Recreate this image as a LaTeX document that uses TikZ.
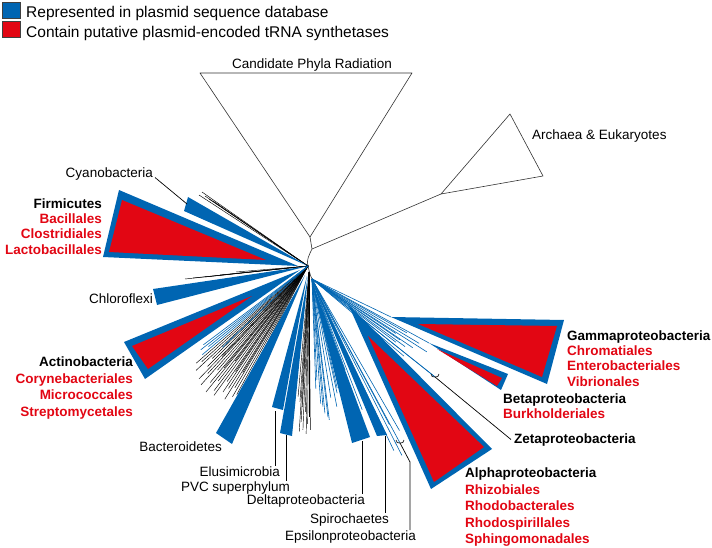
\documentclass[tikz,border=0pt]{standalone}
\usepackage{fontspec}
\setmainfont{Liberation Sans}
\usetikzlibrary{calc}
\definecolor{tblue}{RGB}{0,101,178}
\definecolor{tred}{RGB}{226,6,19}
\begin{document}
\begin{tikzpicture}[x=1pt,y=-1pt,
 lab/.style={inner sep=0pt, font=\fontsize{13.5}{16}\selectfont},
 blab/.style={inner sep=0pt, font=\fontsize{13.5}{16}\selectfont\bfseries},
 rlab/.style={blab, text=tred},
 legtxt/.style={inner sep=0pt, font=\fontsize{15.5}{18}\selectfont},
 legsq/.style={draw=black!75, line width=0.6pt, minimum width=18pt, minimum height=16pt, inner sep=0pt},
 leader/.style={draw=black, line width=0.7pt},
 clade/.style={draw=black!80, line width=0.6pt, line join=round},
 bline/.style={draw=black, line width=0.45pt},
 uline/.style={draw=tblue, line width=0.6pt},
 bw/.style={fill=tblue},
 rw/.style={fill=tred}]
\useasboundingbox (0,0) rectangle (712,548);

% ---------- legend
\node[legsq, fill=tblue, anchor=north west] (legb) at (2,2) {};
\node[legsq, fill=tred, anchor=north west] (legr) at (2,21) {};
\node[legtxt, anchor=base west] (legbt) at (26,17.5) {Represented in plasmid sequence database};
\node[legtxt, anchor=base west] (legrt) at (26,37.5) {Contain putative plasmid-encoded tRNA synthetases};

% ---------- backbone
\coordinate (cprtip) at (310,237);
\coordinate (nA) at (312,249);
\coordinate (nB) at (308,266);
\coordinate (nC) at (309,272);
\coordinate (nD) at (312,279);
\coordinate (arctip) at (441,194);
\draw[clade] (200,73) -- (412,73) -- (cprtip) -- cycle;
\draw[clade] (arctip) -- (510,114) -- (543,176) -- cycle;
\draw[clade] (cprtip) -- (nA) .. controls (309,255) and (306,261) .. (nB) .. controls (309,270) and (310,275) .. (nD);
\draw[clade] (nA) -- (arctip);
\node[lab, anchor=base] (cpr) at (312,69) {Candidate Phyla Radiation};
\node[lab, anchor=base west] (arc) at (532,140) {Archaea \& Eukaryotes};

% ---------- thin branches (left)
\foreach \p in {(202,192),(199,195),(205,196),(209,199),(213,201)}
  \draw[bline] (nB) -- \p;
\foreach \p in {(185,279),(193,278),(205,277),(220,275),(236,272)}
  \draw[bline] (nB) -- \p;
\foreach \a/\r in {139/148,138/143,137/153,136/133,135/142,134/157,133/147,132/160,131/138,130/152,129/162,128/146,127/156,126/160,125/141,124/152,123/146,122/157,121/142,120/151,119/147,118/138,127.5/120,133.5/125,124.5/128,129.5/132,121.5/125}
  \draw[bline] (nB) -- ++(\a:\r);
\foreach \a/\r in {143/131,142/136,141/128,140/138,136.5/118}
  \draw[uline] (nB) -- ++(\a:\r);
% ---------- thin branches (south)
\foreach \a/\r in {93/150,92.2/158,91.5/140,91/162,90.5/152,90/145,89.5/158,92.8/135,94/130,95/125,93.5/160}
  \draw[bline] (nC) -- ++(\a:\r);
\foreach \a/\r in {88/110,87.2/101,86/125,85.1/128,84.5/135,83.4/139,83/142,81/120,79/130,77.6/117,77/112,74.9/108,71/100,70/97,69/140,67/150,64.5/190,63/198,62/165,60/175}
  \draw[uline] (nD) -- ++(\a:\r);
% ---------- thin branches (east)
\foreach \a/\r in {34.3/122,32.4/136,29.6/109,34.7/107,31/125,36/115,37/105,33/100,38.5/157,40/120}
  \draw[uline] (nD) -- ++(\a:\r);
\coordinate (epsbr) at (400,443);
\coordinate (zetabr) at (435,377);
\draw[uline] (nD) -- (epsbr);
\draw[uline] (nD) -- (zetabr);
\draw[uline] (nD) -- (391,317);
\draw[uline] (nD) -- (429,343);
\draw[uline] (nD) -- (348,304);

% ---------- clades (blue wedges)
\fill[bw] (nB) -- (188,197) -- (184,211) -- cycle;      % Cyanobacteria
\fill[bw] (298,266) -- (119,190) -- (103,257) -- cycle; % Firmicutes
\fill[bw] (nB) -- (153,289) -- (157,305) -- cycle;      % Chloroflexi
\fill[bw] (300,270) -- (124,342) -- (145,379) -- cycle; % Actinobacteria
\fill[bw] (305,275) -- (216,433) -- (232,444) -- cycle; % Bacteroidetes
\fill[bw] (307,276) -- (272,407) -- (283,410) -- cycle; % Elusimicrobia
\fill[bw] (308,276) -- (280,433) -- (292,436) -- cycle; % PVC
\fill[bw] (311,279) -- (352,443) -- (370,437) -- cycle; % Delta
\fill[bw] (312,280) -- (377,436) -- (387,435) -- cycle; % Spirochaetes
\fill[bw] (348,304) -- (431,489) -- (492,449) -- cycle; % Alpha
\fill[bw] (429,343) -- (508,374) -- (501,390) -- cycle; % Beta
\fill[bw] (391,317) -- (564,320) -- (547,384) -- cycle; % Gamma
% red interiors
\fill[rw] (266,260) -- (122,200) -- (109,252) -- cycle;
\fill[rw] (252,296) -- (132,346) -- (148,369) -- cycle;
\fill[rw] (368,336) -- (434,482) -- (484,447) -- cycle;
\fill[rw] (437,349) -- (502,378) -- (497,386) -- cycle;
\fill[rw] (418,324) -- (557,326) -- (542,377) -- cycle;

% ---------- labels
\node[lab, anchor=base east] (cyan) at (153,178) {Cyanobacteria};
\node[blab, anchor=base east] (firm) at (102,208) {Firmicutes};
\node[rlab, anchor=base east] (firm1) at (102,223.5) {Bacillales};
\node[rlab, anchor=base east] (firm2) at (102,239) {Clostridiales};
\node[rlab, anchor=base east] (firm3) at (102,254.5) {Lactobacillales};
\node[lab, anchor=base east] (chlo) at (153,303) {Chloroflexi};
\node[blab, anchor=base east] (acti) at (133,366) {Actinobacteria};
\node[rlab, anchor=base east] (acti1) at (133,383) {Corynebacteriales};
\node[rlab, anchor=base east] (acti2) at (133,399.5) {Micrococcales};
\node[rlab, anchor=base east] (acti3) at (133,416) {Streptomycetales};
\node[lab, anchor=base east] (bact) at (222,451) {Bacteroidetes};
\node[lab, anchor=base east] (elus) at (280,476) {Elusimicrobia};
\node[lab, anchor=base east] (pvc) at (290,491) {PVC superphylum};
\node[lab, anchor=base east] (delta) at (365,504) {Deltaproteobacteria};
\node[lab, anchor=base east] (spiro) at (389,523) {Spirochaetes};
\node[lab, anchor=base east] (eps) at (416,540) {Epsilonproteobacteria};
\node[blab, anchor=base west] (gamma) at (567,340) {Gammaproteobacteria};
\node[rlab, anchor=base west] (gamma1) at (567,355) {Chromatiales};
\node[rlab, anchor=base west] (gamma2) at (567,370.5) {Enterobacteriales};
\node[rlab, anchor=base west] (gamma3) at (567,386) {Vibrionales};
\node[blab, anchor=base west] (beta) at (503,403) {Betaproteobacteria};
\node[rlab, anchor=base west] (beta1) at (503,418) {Burkholderiales};
\node[blab, anchor=base west] (zeta) at (514,443) {Zetaproteobacteria};
\node[blab, anchor=base west] (alpha) at (465,477) {Alphaproteobacteria};
\node[rlab, anchor=base west] (alpha1) at (465,494) {Rhizobiales};
\node[rlab, anchor=base west] (alpha2) at (465,510.5) {Rhodobacterales};
\node[rlab, anchor=base west] (alpha3) at (465,527) {Rhodospirillales};
\node[rlab, anchor=base west] (alpha4) at (465,543) {Sphingomonadales};

% ---------- leaders
\coordinate (cyanend) at (187,204);
\coordinate (elusend) at (275,411);
\coordinate (pvcend) at (286,435);
\coordinate (deltaend) at (362,441);
\coordinate (spiroend) at (385,436);
\coordinate (epsbend) at (410,462);
\draw[leader] ($(cyan.east)+(2,3)$) -- (cyanend);
\draw[leader] (elusend) -- (elusend |- elus.north);
\draw[leader] (pvcend) -- (pvcend |- pvc.north);
\draw[leader] (deltaend) -- (deltaend |- delta.north);
\draw[leader] (spiroend) -- (spiroend |- spiro.north);
\draw[leader] (epsbr) -- (epsbend) -- (epsbend |- eps.north);
\draw[leader] (zetabr) -- ($(zeta.west)+(-3,0)$);
\draw[leader, line width=0.6pt] ($(zetabr)+(-4,-3)$) .. controls ($(zetabr)+(-3,0)$) .. (zetabr) .. controls ($(zetabr)+(3,0)$) .. ($(zetabr)+(4,-3)$);
\draw[leader, line width=0.6pt] ($(epsbr)+(-4,-3)$) .. controls ($(epsbr)+(-3,0)$) .. (epsbr) .. controls ($(epsbr)+(3,0)$) .. ($(epsbr)+(4,-3)$);
\end{tikzpicture}
\end{document}
